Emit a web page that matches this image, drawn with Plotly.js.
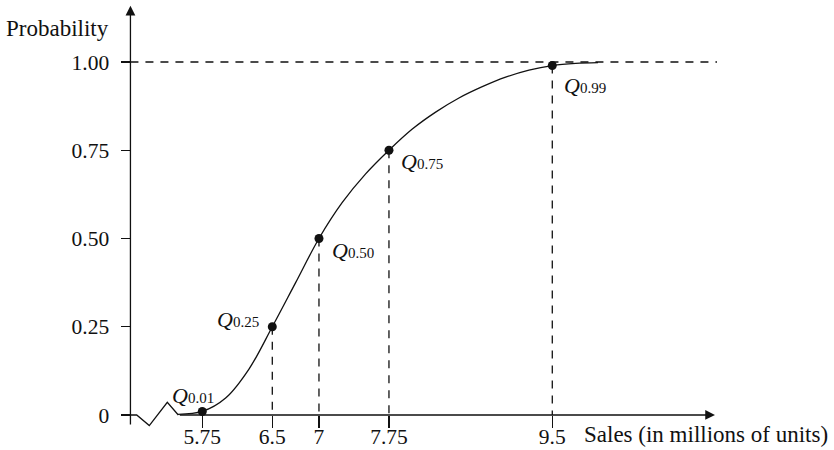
<!DOCTYPE html>
<html>
<head>
<meta charset="utf-8">
<script src="https://cdn.plot.ly/plotly-3.0.1.min.js"></script>
<style>
  html, body { margin: 0; padding: 0; background: #fff; }
  #chart { width: 834px; height: 450px; }
</style>
</head>
<body>
<div id="chart"></div>
<script>
// Cumulative distribution of sales with marked quantiles
const salesTicks = [5.75, 6.5, 7, 7.75, 9.5];
const salesTickText = ['5.75', '6.5', '7', '7.75', '9.5'];
const probTicks = [0, 0.25, 0.50, 0.75, 1.00];
const probTickText = ['0', '0.25', '0.50', '0.75', '1.00'];

const quantileLevels = ['0.01', '0.25', '0.50', '0.75', '0.99'];
const quantileSales = [5.75, 6.5, 7, 7.75, 9.5];
const quantileProb = [0.01, 0.25, 0.50, 0.75, 0.99];

const curveSales = [5.49, 5.75, 6.0, 6.25, 6.5, 6.75, 7.0, 7.25, 7.5, 7.75, 8.0, 8.25, 8.5, 8.75, 9.0, 9.25, 9.5, 9.75, 9.99];
const curveProb  = [0.002, 0.01, 0.048, 0.130, 0.25, 0.375, 0.50, 0.602, 0.683, 0.75, 0.810, 0.858, 0.898, 0.930, 0.957, 0.977, 0.99, 0.996, 0.998];

// axis geometry (data units)
const yAxisAt = 4.98;        // where the vertical axis crosses
const xAxisEnd = 11.243;     // tip of the horizontal arrow
const yAxisTop = 1.159;      // tip of the vertical arrow
const yAxisBottom = -0.031;
const refLineEnd = 11.265;   // end of the dashed 1.00 line

const serif = 'Liberation Serif, Times New Roman, serif';
const ink = '#111';
const lw = 1.3;

// vertical guide segments from each quantile down to the axis
const guideX = [], guideY = [];
quantileSales.forEach((x, i) => { guideX.push(x, x, null); guideY.push(quantileProb[i], 0, null); });

const traces = [
  { x: guideX, y: guideY, mode: 'lines', line: { color: ink, width: lw, dash: '8px,7px' }, hoverinfo: 'skip' },
  { x: [yAxisAt, refLineEnd], y: [1, 1], mode: 'lines', line: { color: ink, width: lw, dash: '8px,7px' }, hoverinfo: 'skip' },
  // horizontal axis with its break near the origin
  { x: [yAxisAt, 5.047, 5.182, 5.375, 5.493], y: [0, 0, -0.030, 0.036, 0], mode: 'lines', line: { color: ink, width: lw }, hoverinfo: 'skip' },
  { x: curveSales, y: curveProb, mode: 'lines', line: { color: ink, width: lw, shape: 'spline', smoothing: 1 }, hoverinfo: 'skip' },
  { x: quantileSales, y: quantileProb, mode: 'markers', marker: { color: ink, size: 9 }, hoverinfo: 'skip' }
];

// quantile label placement relative to the point (pixels)
const labelPlace = [
  { xanchor: 'center', xshift: -9, yshift: 16 },
  { xanchor: 'right', xshift: -11, yshift: 7 },
  { xanchor: 'left', xshift: 11, yshift: -12 },
  { xanchor: 'left', xshift: 10, yshift: -11 },
  { xanchor: 'left', xshift: 10, yshift: -20 }
];

const annotations = quantileLevels.map((q, i) => ({
  x: quantileSales[i], y: quantileProb[i], xref: 'x', yref: 'y',
  text: '<i>Q</i><span style="font-size:15px">' + q + '</span>',
  showarrow: false, xanchor: labelPlace[i].xanchor, yanchor: 'middle',
  xshift: labelPlace[i].xshift, yshift: labelPlace[i].yshift,
  font: { family: serif, size: 22, color: ink }
}));

annotations.push(
  { x: xAxisEnd, y: 0, ax: 5.493, ay: 0, xref: 'x', yref: 'y', axref: 'x', ayref: 'y',
    text: '', showarrow: true, arrowhead: 2, arrowsize: 1.5, arrowwidth: lw, arrowcolor: ink },
  { x: yAxisAt, y: yAxisTop, ax: yAxisAt, ay: yAxisBottom, xref: 'x', yref: 'y', axref: 'x', ayref: 'y',
    text: '', showarrow: true, arrowhead: 2, arrowsize: 1.5, arrowwidth: lw, arrowcolor: ink },
  { x: yAxisAt, y: 1.096, xref: 'x', yref: 'y', text: 'Probability', showarrow: false,
    xanchor: 'right', yanchor: 'middle', xshift: -19, font: { family: serif, size: 23, color: ink } },
  { x: 581.7 / 834, y: 16 / 450, xref: 'paper', yref: 'paper', text: 'Sales (in millions of units)', showarrow: false,
    xanchor: 'left', yanchor: 'middle', font: { family: serif, size: 23, color: ink } }
);

const layout = {
  width: 834, height: 450,
  margin: { l: 0, r: 0, t: 0, b: 0 },
  paper_bgcolor: '#fff', plot_bgcolor: '#fff',
  showlegend: false,
  xaxis: {
    range: [3.5824, 12.5184], anchor: 'free', position: 35 / 450,
    showgrid: false, zeroline: false, showline: false,
    tickmode: 'array', tickvals: salesTicks, ticktext: salesTickText,
    ticks: 'outside', ticklen: 12, tickwidth: lw, tickcolor: ink,
    ticklabelstandoff: -10,
    tickfont: { family: serif, size: 21.5, color: ink }
  },
  yaxis: {
    range: [-0.0992, 1.1756], anchor: 'free', position: 130.5 / 834,
    showgrid: false, zeroline: false, showline: false,
    tickmode: 'array', tickvals: probTicks, ticktext: probTickText,
    ticks: 'outside', ticklen: 10, tickwidth: lw, tickcolor: ink,
    ticklabelstandoff: 7,
    tickfont: { family: serif, size: 21.5, color: ink }
  },
  annotations: annotations
};

Plotly.newPlot('chart', traces, layout, { staticPlot: true, displayModeBar: false });
</script>
</body>
</html>
